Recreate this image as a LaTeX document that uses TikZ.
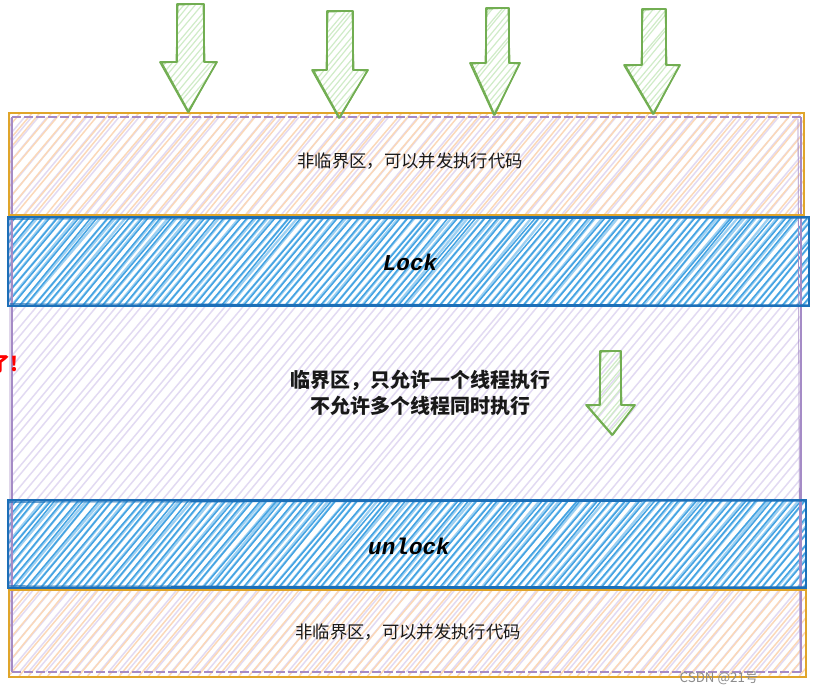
\documentclass[tikz,border=0pt]{standalone}
\usepackage{fontspec}
\newfontfamily\cjk{Noto Sans CJK SC}
\newfontfamily\codefont{Liberation Mono}
\definecolor{orangeB}{HTML}{E0A52A}
\definecolor{orangeF}{HTML}{FBD8B8}
\definecolor{purpleB}{HTML}{A58BC6}
\definecolor{purpleF}{HTML}{E2DAF2}
\definecolor{blueB}{HTML}{1C6FB8}
\definecolor{blueF}{HTML}{44A3E2}
\definecolor{blueL}{HTML}{9DD0F2}
\definecolor{greenB}{HTML}{72AE52}
\definecolor{greenF}{HTML}{D0ECC8}
\newcommand\myhach[7]{%
 \begin{scope}
 \clip (#1,#2) rectangle (#3,#4);
 \pgfmathsetmacro\hh{(#4-#2)/1.2}
 \pgfmathsetmacro\cs{#1-\hh}
 \pgfmathsetmacro\cn{\cs+#6}
 \foreach \c in {\cs,\cn,...,#3} {
   \draw[#5, line width=#7] (\c+rnd*2,#4) -- ++(\hh+rnd*4-2,#2-#4);
 }
 \end{scope}}
\newcommand\garrow[8]{%
 \begin{scope}
  \clip (#1,#3) -- (#2,#3) -- (#2,#4) -- (#6,#4) -- (#7,#8) -- (#5,#4) -- (#1,#4) -- cycle;
  \myhach{#5}{#3}{#6}{#8}{greenF}{6}{0.9pt}
 \end{scope}
 \draw[greenB, line width=1.3pt, line join=round] (#1,#3) -- (#2,#3) -- (#2,#4) -- (#6,#4) -- (#7,#8) -- (#5,#4) -- (#1,#4) -- cycle;
 \draw[greenB, line width=0.8pt, line join=round] (#1+1,#3+1) -- (#2-1,#3) -- (#2+1,#4) -- (#6-1,#4+1) -- (#7+1,#8) -- (#5+2,#4+1) -- (#1-1,#4) -- cycle;
}
\tikzset{
  boxtxt/.style={font=\cjk\fontsize{13}{15}\selectfont, text=black!90},
  midtxt/.style={font=\cjk\bfseries\fontsize{15}{19}\selectfont, text=black!90, align=center},
  codetxt/.style={font=\codefont\bfseries\itshape\fontsize{17}{19}\selectfont, text=black},
}
\begin{document}
\begin{tikzpicture}[x=0.75pt,y=-0.75pt]
\pgfmathsetseed{7}
\useasboundingbox (0,0) rectangle (827,693);
\fill[white] (0,0) rectangle (827,693);
% purple region
\myhach{12}{117}{801}{672}{purpleF}{9}{1.1pt}
% orange regions
\myhach{9}{113}{804}{215}{orangeF}{10}{1.1pt}
\myhach{9}{590}{806}{676}{orangeF}{10}{1.1pt}
% blue regions
\fill[white] (8,217) rectangle (809,306);
\fill[white] (8,500) rectangle (806,588);
\myhach{8}{217}{809}{306}{blueL}{7}{1.7pt}
\myhach{8}{217}{809}{306}{blueF}{7}{1.1pt}
\myhach{8}{500}{806}{588}{blueL}{7}{1.7pt}
\myhach{8}{500}{806}{588}{blueF}{7}{1.1pt}
% borders
\draw[purpleB, line width=1pt] (12,117) -- (12,672) (801,117) -- (801,672);
\draw[purpleB, line width=1pt, dash pattern=on 7pt off 2pt] (12,117) -- (801,117) (12,672) -- (801,672);
\draw[purpleB, line width=0.6pt] (10,118) -- (10,671) (798,119) -- (800,671);
\draw[orangeB, line width=1.4pt] (9,113) rectangle (804,215);
\draw[orangeB, line width=1.4pt] (9,590) rectangle (806,677);
\draw[blueB, line width=1.3pt] (8,217) rectangle (809,306);
\draw[blueB, line width=0.8pt] (9,219) -- (807,218) (10,304) -- (808,305);
\draw[blueB, line width=1.3pt] (8,500) rectangle (806,588);
\draw[blueB, line width=0.8pt] (9,502) -- (805,501) (9,586) -- (805,587);
% texts
\node[boxtxt] (t1) at (410,161) {非临界区，可以并发执行代码};
\node[codetxt] (lock) at (410,262) {Lock};
\node[midtxt] (mid) at (420,393) {临界区，只允许一个线程执行\\不允许多个线程同时执行};
\node[codetxt] (unlock) at (409,546) {unlock};
\node[boxtxt] (t2) at (408,632) {非临界区，可以并发执行代码};
\node[font=\cjk\bfseries\fontsize{15}{17}\selectfont, text=red, anchor=east, inner sep=0pt] (red) at (18.5,364) {了!};
\node[font=\cjk\fontsize{10}{12}\selectfont, text=black!45, inner sep=0pt] (wm) at (719,678) {CSDN @21号};
% arrows
\garrow{177}{204}{4}{62}{160}{217}{188}{112}
\garrow{327}{353}{11}{70}{312}{368}{339}{118}
\garrow{486}{509}{8}{63}{470}{520}{494}{115}
\garrow{642}{666}{9}{65}{624}{680}{653}{114}
\garrow{600}{621}{351}{405}{586}{635}{612}{435}
\end{tikzpicture}
\end{document}
